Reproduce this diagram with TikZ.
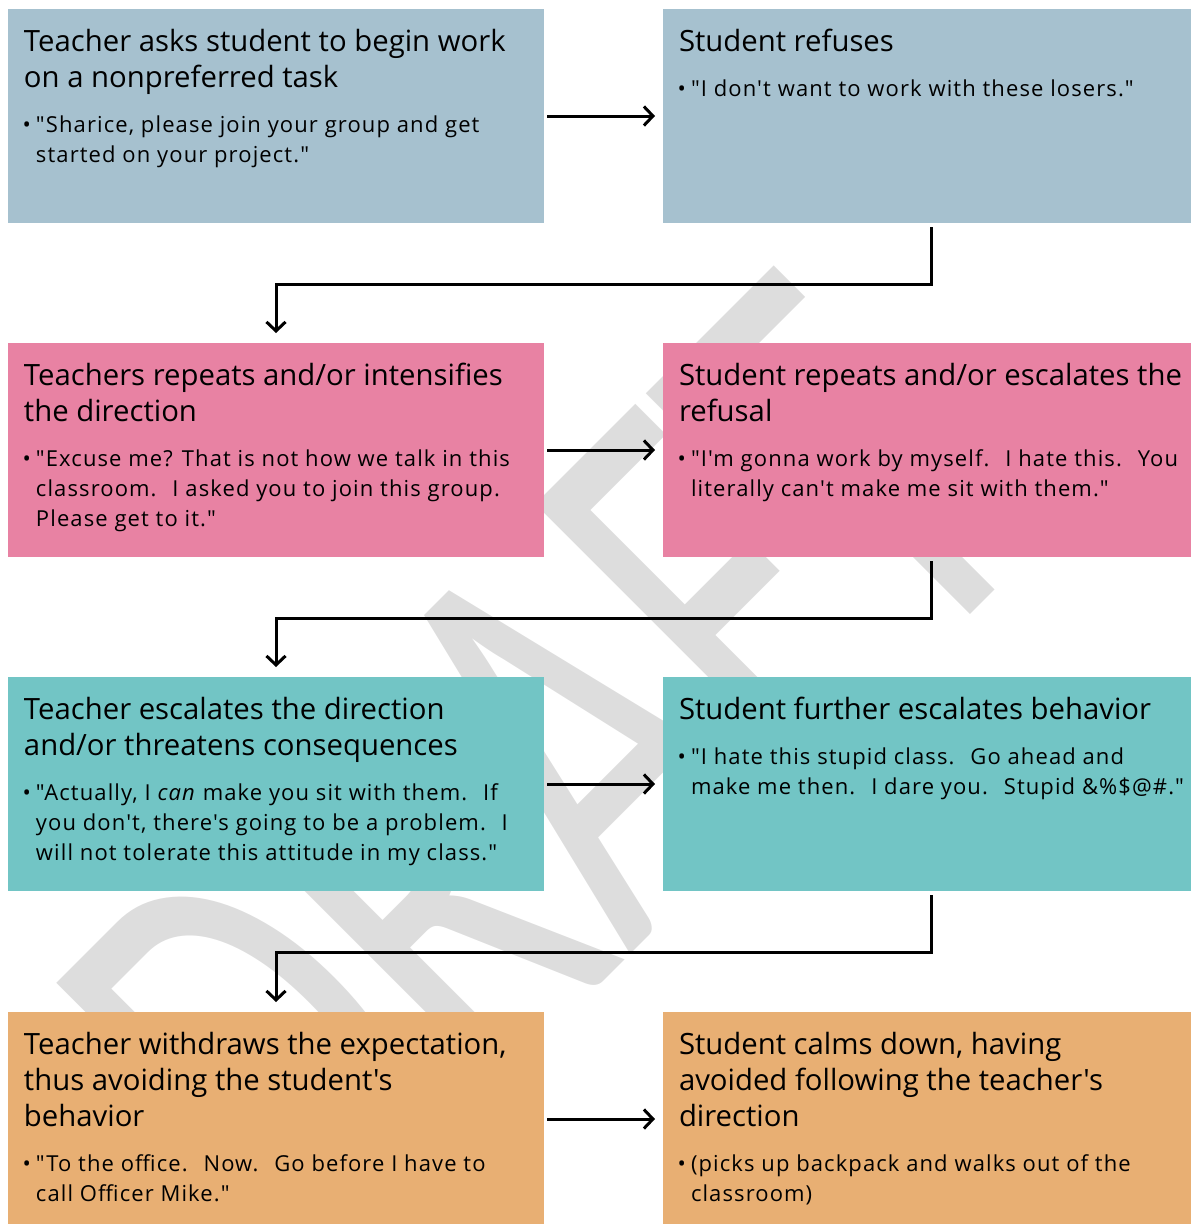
\documentclass[tikz,border=0pt]{standalone}
\usepackage{fontspec}
\setmainfont{Open Sans}[Ligatures=TeXOff]
\newfontfamily\bodyfont{Open Sans}[Ligatures=TeXOff, LetterSpace=5]
\newfontfamily\draftfont{Carlito}
\usetikzlibrary{arrows.meta}
\definecolor{cBlue}{HTML}{A6C1CF}
\definecolor{cPink}{HTML}{E882A3}
\definecolor{cTeal}{HTML}{72C5C5}
\definecolor{cOrange}{HTML}{E8AF73}
\definecolor{cDraft}{HTML}{DDDDDD}
% box text: width, title, bullet
\newcommand{\boxtext}[3]{%
\begin{minipage}[t][214pt][t]{#1}\raggedright\parindent=0pt\leftskip=16pt\rightskip=-40pt plus 1fil
{\fontsize{29.3}{36}\selectfont\rule{0pt}{42pt}#2\par}
\vspace{15pt}
{\bodyfont\fontsize{22}{30}\selectfont\leftskip=28pt\leavevmode\llap{\textbullet\hspace{5pt}}#3\par}
\end{minipage}}
\tikzset{
  stagebox/.style={anchor=north west, inner sep=0pt, outer sep=0pt},
  flow/.style={line width=3pt, -{Straight Barb[length=9pt,width=19pt]}},
}
\begin{document}
\begin{tikzpicture}[x=1pt,y=-1pt]
 \useasboundingbox (0,0) rectangle (1191,1224);
 \node[anchor=base west, inner sep=0pt, rotate=45, yscale=1.54, text=cDraft, font=\draftfont\fontsize{390}{390}\selectfont] (draft) at (310,1275) {DRAFT};
 % teacher column
 \node[stagebox, fill=cBlue] (t1) at (8,9) {\boxtext{536pt}{Teacher asks student to begin work\\on a nonpreferred task}{"Sharice, please join your group and get\\started on your project."}};
 \node[stagebox, fill=cPink] (t2) at (8,343) {\boxtext{536pt}{Teachers repeats and/or intensifies\\the direction}{"Excuse me? That is not how we talk in this\\classroom.~ I asked you to join this group.\\Please get to it."}};
 \node[stagebox, fill=cTeal] (t3) at (8,677) {\boxtext{536pt}{Teacher escalates the direction\\and/or threatens consequences}{"Actually, I \textit{can} make you sit with them.~ If\\you don't, there's going to be a problem.~ I\\will not tolerate this attitude in my class."}};
 \node[stagebox, fill=cOrange] (t4) at (8,1012) {\boxtext{536pt}{Teacher withdraws the expectation,\\thus avoiding the student's\\behavior}{"To the office.~ Now.~ Go before I have to\\call Officer Mike."}};
 % student column
 \node[stagebox, fill=cBlue] (s1) at (663,9) {\boxtext{528pt}{Student refuses}{"I don't want to work with these losers."}};
 \node[stagebox, fill=cPink] (s2) at (663,343) {\boxtext{528pt}{Student repeats and/or escalates the\\refusal}{"I'm gonna work by myself.~ I hate this.~ You\\literally can't make me sit with them."}};
 \node[stagebox, fill=cTeal] (s3) at (663,677) {\boxtext{528pt}{Student further escalates behavior}{"I hate this stupid class.~ Go ahead and\\make me then.~ I dare you.~ Stupid \&\%\$@\#."}};
 \node[stagebox, fill=cOrange] (s4) at (663,1012) {\boxtext{528pt}{Student calms down, having\\avoided following the teacher's\\direction}{(picks up backpack and walks out of the\\classroom)}};
 % arrows
 \draw[flow, shorten <=3pt, shorten >=8pt] (t1.east) -- (s1.west);
 \draw[flow, shorten <=3pt, shorten >=8pt] (t2.east) -- (s2.west);
 \draw[flow, shorten <=3pt, shorten >=8pt] (t3.east) -- (s3.west);
 \draw[flow, shorten <=3pt, shorten >=8pt] (t4.east) -- (s4.west);
 \draw[flow, shorten <=4pt, shorten >=10pt] ([xshift=4pt]s1.south) -- ++(0,61) -| (t2.north);
 \draw[flow, shorten <=4pt, shorten >=10pt] ([xshift=4pt]s2.south) -- ++(0,61) -| (t3.north);
 \draw[flow, shorten <=4pt, shorten >=10pt] ([xshift=4pt]s3.south) -- ++(0,61) -| (t4.north);
\end{tikzpicture}
\end{document}
